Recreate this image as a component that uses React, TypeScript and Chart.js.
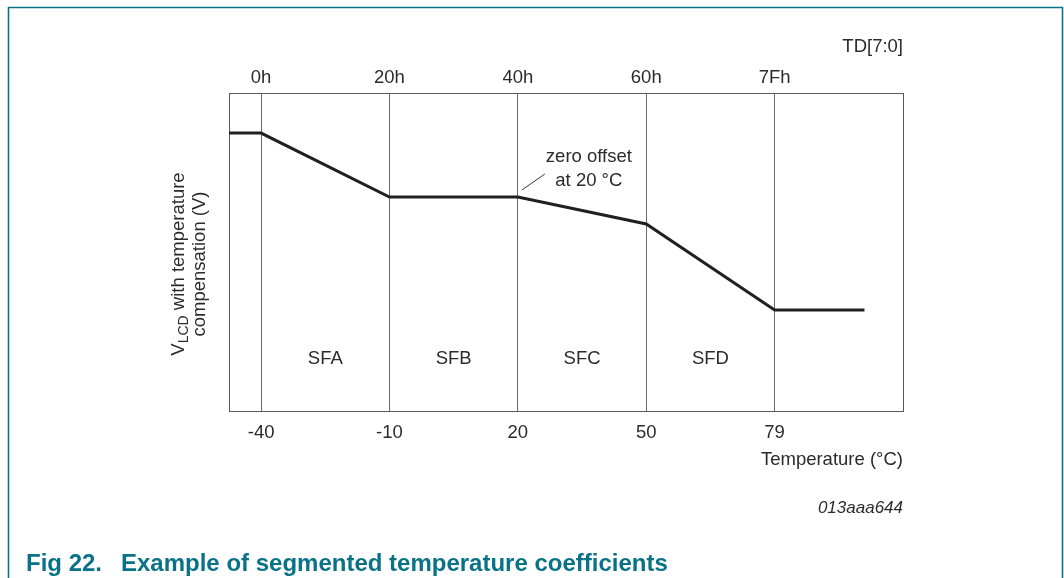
import React, { useEffect, useRef } from 'react';
import { Chart, registerables } from 'chart.js';

Chart.register(...registerables);

// Segment break positions (index along the temperature axis) and V_LCD (arbitrary units, 0..100)
const segmentIndex = [-0.25, 0, 1, 2, 3, 4, 4.7];
const vlcdValues = [87.4, 87.4, 67.3, 67.3, 58.8, 31.8, 31.8];
const breakpointIndex = [0, 1, 2, 3, 4];
const temperatureLabels = ['-40', '-10', '20', '50', '79'];
const tdLabels = ['0h', '20h', '40h', '60h', '7Fh'];
const segmentNames = ['SFA', 'SFB', 'SFC', 'SFD'];

const FONT = '"Liberation Sans", Arial, Helvetica, sans-serif';
const FS = 18.5;
const TEXT = '#2b2b2b';
const TEAL = '#0a7287';

const decorPlugin = {
  id: 'decor',
  beforeDatasetsDraw(chart: any) {
    const { ctx, chartArea: a } = chart;
    ctx.save();
    ctx.strokeStyle = '#5a5a5a';
    ctx.lineWidth = 1;
    const l = Math.round(a.left) + 0.5;
    const t = Math.round(a.top) + 0.5;
    ctx.strokeRect(l, t, Math.round(a.right) - Math.round(a.left), Math.round(a.bottom) - Math.round(a.top));
    ctx.restore();
  },
  afterDraw(chart: any) {
    const { ctx, chartArea: a, scales } = chart;
    const xs = scales.x;
    const ys = scales.y;
    ctx.save();

    // outer teal frame
    ctx.strokeStyle = TEAL;
    ctx.lineWidth = 1.6;
    ctx.beginPath();
    ctx.moveTo(8.5, 600);
    ctx.lineTo(8.5, 7.5);
    ctx.lineTo(1062.5, 7.5);
    ctx.lineTo(1062.5, 600);
    ctx.stroke();

    // segment names
    ctx.fillStyle = TEXT;
    ctx.font = `${FS}px ${FONT}`;
    ctx.textAlign = 'center';
    ctx.textBaseline = 'middle';
    segmentNames.forEach((name, i) => {
      const cx = (xs.getPixelForValue(breakpointIndex[i]) + xs.getPixelForValue(breakpointIndex[i + 1])) / 2;
      ctx.fillText(name, cx, ys.getPixelForValue(16.5));
    });

    // zero offset annotation
    const px = xs.getPixelForValue(2);
    const py = ys.getPixelForValue(67.3);
    ctx.fillText('zero offset', px + 71, py - 40);
    ctx.fillText('at 20 \u00B0C', px + 71, py - 16);
    ctx.strokeStyle = '#333';
    ctx.lineWidth = 1;
    ctx.beginPath();
    ctx.moveTo(px + 4, py - 7);
    ctx.lineTo(px + 27, py - 23);
    ctx.stroke();

    // y-axis title with subscript
    const cx = a.left - 41;
    const cy = (a.top + a.bottom) / 2 + 12;
    ctx.translate(cx, cy);
    ctx.rotate(-Math.PI / 2);
    ctx.textBaseline = 'alphabetic';
    ctx.textAlign = 'left';
    const big = `${FS}px ${FONT}`;
    const small = `14px ${FONT}`;
    ctx.font = big;
    const wV = ctx.measureText('V').width;
    const rest = ' with temperature';
    const wRest = ctx.measureText(rest).width;
    ctx.font = small;
    const wSub = ctx.measureText('LCD').width;
    const total = wV + wSub + wRest;
    let sx = -total / 2;
    const b1 = -4;
    ctx.font = big;
    ctx.fillText('V', sx, b1);
    sx += wV;
    ctx.font = small;
    ctx.fillText('LCD', sx, b1 + 4);
    sx += wSub;
    ctx.font = big;
    ctx.fillText(rest, sx, b1);
    ctx.textAlign = 'center';
    ctx.fillText('compensation (V)', 0, b1 + 21);
    ctx.setTransform(1, 0, 0, 1, 0, 0);

    // figure id
    ctx.font = `italic 17px ${FONT}`;
    ctx.textAlign = 'right';
    ctx.textBaseline = 'middle';
    ctx.fillStyle = TEXT;
    ctx.fillText('013aaa644', a.right, 508);

    // caption
    ctx.fillStyle = TEAL;
    ctx.font = `bold 24px ${FONT}`;
    ctx.textAlign = 'left';
    ctx.textBaseline = 'alphabetic';
    ctx.fillText('Fig 22.', 26, 571);
    ctx.fillText('Example of segmented temperature coefficients', 121, 571);

    ctx.restore();
  },
};

export default function App() {
  const ref = useRef<HTMLCanvasElement | null>(null);

  useEffect(() => {
    if (!ref.current) return;
    const fixedTicks = (scale: any) => {
      scale.ticks = breakpointIndex.map((v) => ({ value: v }));
    };
    const chart = new Chart(ref.current, {
      type: 'line',
      data: {
        datasets: [
          {
            data: segmentIndex.map((x, i) => ({ x, y: vlcdValues[i] })),
            borderColor: '#231f20',
            borderWidth: 3,
            pointRadius: 0,
            tension: 0,
            fill: false,
          },
        ],
      },
      options: {
        responsive: false,
        animation: false,
        events: [],
        layout: { padding: { left: 229, right: 161, top: 33, bottom: 107 } },
        plugins: { legend: { display: false }, tooltip: { enabled: false }, title: { display: false } },
        scales: {
          x: {
            type: 'linear',
            position: 'bottom',
            min: -0.25,
            max: 5.0,
            afterBuildTicks: fixedTicks,
            afterFit: (s: any) => { s.height = 60; },
            grid: { display: true, drawTicks: false, color: '#6a6a6a', lineWidth: 1 },
            border: { display: false },
            ticks: {
              padding: 11,
              color: TEXT,
              font: { family: FONT, size: FS },
              maxRotation: 0,
              autoSkip: false,
              callback: (v: any) => temperatureLabels[breakpointIndex.indexOf(Number(v))] ?? '',
            },
            title: {
              display: true,
              text: 'Temperature (\u00B0C)',
              align: 'end',
              color: TEXT,
              font: { family: FONT, size: FS },
              padding: { top: 0, bottom: 0 },
            },
          },
          x2: {
            type: 'linear',
            position: 'top',
            min: -0.25,
            max: 5.0,
            afterBuildTicks: fixedTicks,
            afterFit: (s: any) => { s.height = 60; },
            grid: { display: false, drawTicks: false },
            border: { display: false },
            ticks: {
              padding: 4,
              color: TEXT,
              font: { family: FONT, size: FS },
              maxRotation: 0,
              autoSkip: false,
              callback: (v: any) => tdLabels[breakpointIndex.indexOf(Number(v))] ?? '',
            },
            title: {
              display: true,
              text: 'TD[7:0]',
              align: 'end',
              color: TEXT,
              font: { family: FONT, size: FS },
              padding: { top: 3, bottom: 0 },
            },
          },
          y: {
            type: 'linear',
            display: false,
            min: 0,
            max: 100,
          },
        },
      },
      plugins: [decorPlugin],
    });
    return () => chart.destroy();
  }, []);

  return (
    <div style={{ position: 'absolute', left: 0, top: 0, width: 1064, height: 578, background: '#fff', overflow: 'hidden' }}>
      <canvas ref={ref} width={1064} height={578} style={{ display: 'block' }} />
    </div>
  );
}
